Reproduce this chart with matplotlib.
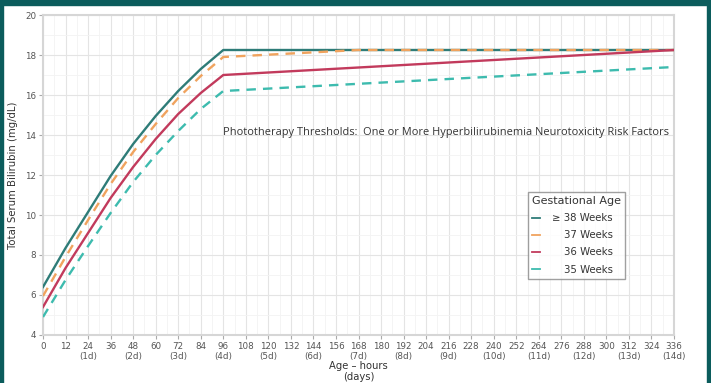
import matplotlib
matplotlib.use('Agg')
import matplotlib.pyplot as plt
from matplotlib.patches import Rectangle

# hours of age and thresholds (mg/dL)
hours_rise = [0, 12, 24, 36, 48, 60, 72, 84, 96]
ga38_rise = [6.4, 8.35, 10.15, 11.95, 13.55, 14.95, 16.2, 17.3, 18.25]
ga37_rise = [5.95, 7.9, 9.75, 11.55, 13.15, 14.55, 15.85, 16.95, 17.9]
ga36_rise = [5.4, 7.35, 9.1, 10.85, 12.4, 13.8, 15.05, 16.1, 17.0]
ga35_rise = [4.9, 6.75, 8.45, 10.1, 11.65, 13.0, 14.2, 15.3, 16.2]

ga38_tail_h, ga38_tail = [336], [18.25]
ga37_tail_h, ga37_tail = [168, 336], [18.25, 18.25]
ga36_tail_h, ga36_tail = [336], [18.25]
ga35_tail_h, ga35_tail = [336], [17.4]

labels = ['\u2265 38 Weeks', '37 Weeks', '36 Weeks', '35 Weeks']
colors = ['#2e7c78', '#f0a35e', '#c23a5c', '#3dbbae']
styles = ['-', '--', '-', '--']

xticks = list(range(0, 337, 12))
xlabels = [str(h) + ('\n(%dd)' % (h // 24) if h % 24 == 0 and h > 0 else '') for h in xticks]
yticks = list(range(4, 21, 2))

fig = plt.figure(figsize=(7.11, 3.83), dpi=100)
ax = fig.add_axes([43/711, 1-335/383, 631/711, 320/383])

series = [(ga38_rise, ga38_tail_h, ga38_tail), (ga37_rise, ga37_tail_h, ga37_tail),
          (ga36_rise, ga36_tail_h, ga36_tail), (ga35_rise, ga35_tail_h, ga35_tail)]
for (rise, th, tv), lab, c, ls in zip(series, labels, colors, styles):
    ax.plot(hours_rise + th, rise + tv, color=c, ls=ls, lw=1.7, label=lab,
            dashes=(4, 3) if ls == '--' else (None, None), zorder=3)

ax.set_xlim(0, 336)
ax.set_ylim(4, 20)
ax.set_xticks(xticks)
ax.set_xticklabels(xlabels, fontsize=6.3, color='#555555', linespacing=1.2)
ax.set_yticks(yticks)
ax.set_yticklabels([str(v) for v in yticks], fontsize=6.3, color='#555555')
ax.set_xticks(range(6, 336, 6), minor=True)
ax.set_yticks(range(5, 20, 1), minor=True)
ax.tick_params(which='major', length=3, width=0.8, color='#aaaaaa', pad=2)
ax.tick_params(which='minor', length=0)
ax.grid(which='major', color='#e4e4e4', lw=0.8)
ax.grid(which='minor', color='#f3f3f3', lw=0.6)
ax.set_axisbelow(True)
for s in ax.spines.values():
    s.set_color('#d6d6d6')
    s.set_linewidth(1.5)

ax.set_xlabel('Age \u2013 hours\n(days)', fontsize=7.2, color='#333333', labelpad=0, linespacing=1.05)
ax.set_ylabel('Total Serum Bilirubin (mg/dL)', fontsize=7.3, color='#333333', labelpad=5)

ax.text(96, 14.15, 'Phototherapy Thresholds:  One or More Hyperbilirubinemia Neurotoxicity Risk Factors',
        fontsize=7.9, color='#333333', va='center', ha='left', family='Open Sans')

leg = ax.legend(title='Gestational Age', loc='upper left', bbox_to_anchor=(480/631, 1-(187-15)/320),
                fontsize=7.3, title_fontsize=8, handlelength=0.8, handletextpad=1.2,
                frameon=True, fancybox=False, edgecolor='#888888', borderpad=0.4,
                labelspacing=0.7, alignment='left')
leg.get_frame().set_linewidth(1.0)
for line in leg.get_lines():
    line.set_linestyle('-')
    line.set_linewidth(1.3)
for t in leg.get_texts():
    t.set_color('#333333')
leg.get_title().set_color('#333333')

# right-align the legend labels
fig.canvas.draw()
texts = leg.get_texts()
widths = [t.get_window_extent().width for t in texts]
maxw = max(widths)
for t, w in zip(texts, widths):
    t.set_x(maxw - w)

teal = '#0b5c5c'
fig.patches.append(Rectangle((0, 1-5/383), 1, 5/383, transform=fig.transFigure, color=teal, zorder=10))
fig.patches.append(Rectangle((0, 0), 3/711, 1, transform=fig.transFigure, color=teal, zorder=10))
fig.patches.append(Rectangle((1-4/711, 0), 4/711, 1, transform=fig.transFigure, color=teal, zorder=10))

fig.savefig('out.png', dpi=100)
